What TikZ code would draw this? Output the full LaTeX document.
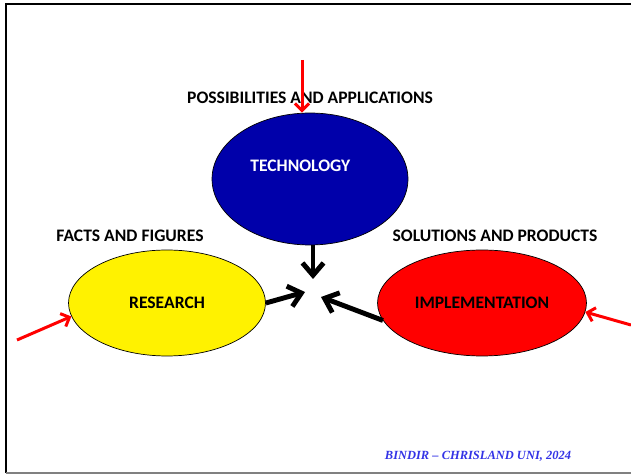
\documentclass[tikz,border=0pt]{standalone}
\usepackage{fontspec}
\setmainfont{Carlito}
\newfontfamily\footfont{Liberation Serif}
\usetikzlibrary{arrows.meta,shapes.geometric}
\definecolor{techblue}{RGB}{0,0,170}
\definecolor{footblue}{RGB}{51,51,230}
\tikzset{
  field/.style={ellipse, draw=black, thin, font=\bfseries\fontsize{10}{12}\selectfont},
  caption/.style={font=\bfseries\fontsize{10}{12}\selectfont},
  flow/.style={line width=2.8pt, -{Straight Barb[length=7pt,width=12pt]}},
  feed/.style={red, line width=1.7pt, -{Straight Barb[length=4pt,width=8pt]}}
}
\begin{document}
\begin{tikzpicture}[x=0.02cm,y=-0.02cm]
%define stuff
\def\left{0}
\def\right{631}
\def\top{0}
\def\bottom{475}
%set bounding box
\useasboundingbox (\left,\top) rectangle (\right,\bottom);
%slide frame
\draw[line width=1.1pt] (6,473) -- (6,4) -- (\right,4);
\draw[gray, line width=0.6pt] (6,473) -- (\right,473);
%the three fields
\node[field, fill=techblue, text=white, minimum width=3.92cm, minimum height=2.64cm] (tech) at (310,179) {\raisebox{1.5em}{TECHNOLOGY}\hspace*{11pt}};
\node[field, fill=yellow, minimum width=3.94cm, minimum height=2.12cm] (research) at (167,303) {RESEARCH};
\node[field, fill=red, minimum width=4.18cm, minimum height=2.12cm] (impl) at (482,303) {IMPLEMENTATION};
%captions
\node[caption] (techcap) at (310,98) {POSSIBILITIES AND APPLICATIONS};
\node[caption] (rescap) at (130,236) {FACTS AND FIGURES};
\node[caption] (implcap) at (495,236) {SOLUTIONS AND PRODUCTS};
%meeting point
\coordinate (techend) at (313,279);
\coordinate (resend) at (305,292);
\coordinate (implend) at (321,297);
\draw[flow] (techend |- tech.south) -- (techend);
\draw[flow] (research.east) -- (resend);
\draw[flow] (impl.190) -- (implend);
%inputs from outside
\coordinate (topin) at (302,60);
\coordinate (leftin) at (17,340);
\coordinate (rightin) at (631,325);
\draw[feed] (topin) -- (topin |- tech.north);
\draw[feed] (leftin) -- (research.188);
\draw[feed] (rightin) -- (impl.-5);
%footer
\node[font=\footfont\bfseries\itshape\fontsize{7.1}{9}\selectfont, text=footblue] (foot) at (478,456) {BINDIR – CHRISLAND UNI, 2024};
\end{tikzpicture}
\end{document}
